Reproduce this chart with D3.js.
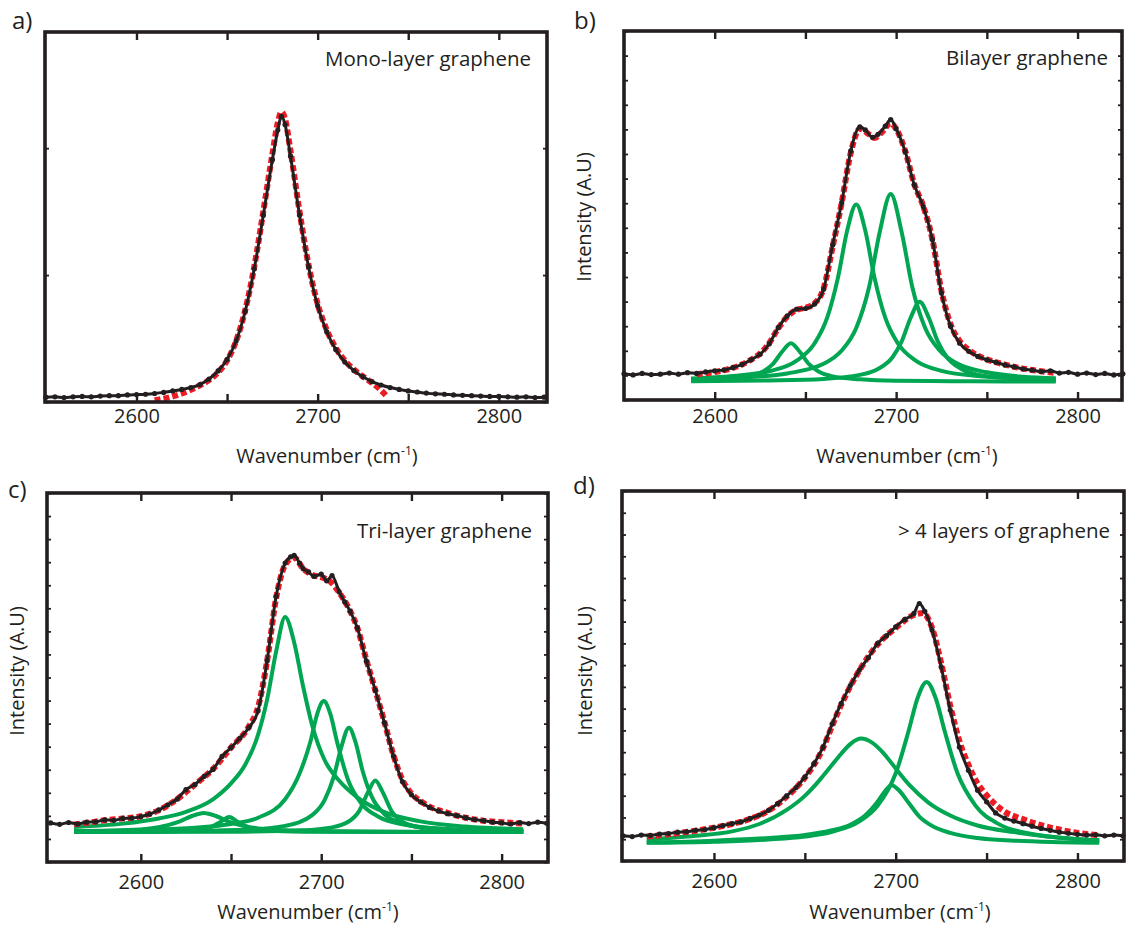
<!DOCTYPE html>
<html><head><meta charset="utf-8">
<script src="https://cdn.jsdelivr.net/npm/d3@7"></script>
<style>
body{margin:0;background:#fff}
svg{display:block}
text{font-family:'Open Sans',sans-serif;fill:#231f20}
</style>
</head><body>
<svg id="chart" width="1127" height="929"></svg>
<script>
// ---------------- DATA ----------------
const xTickValues = [2600, 2650, 2700, 2750, 2800];
const xTickLabels = [2600, 2700, 2800];
const panelLetters = ["a)", "b)", "c)", "d)"];
const panelTitles = ["Mono-layer graphene", "Bilayer graphene", "Tri-layer graphene", "> 4 layers of graphene"];
const xAxisTitle = "Wavenumber (cm";
const xAxisSup = "-1";
const yAxisTitle = "Intensity (A.U)";

// a) mono-layer: measured (black) and fit (red)
const blackA = [[2550,1.3],[2555,1.4],[2560,1.2],[2565,1.4],[2570,1.5],[2575,1.4],[2580,1.6],[2585,1.7],[2590,1.7],[2595,1.9],[2600,2.0],[2605,2.1],[2610,2.3],[2615,2.6],[2620,3.0],[2625,3.4],[2630,3.9],[2635,4.7],[2640,6.2],[2645,8.4],[2650,11.5],[2655,16.5],[2660,24.5],[2665,36.0],[2670,50.5],[2675,65.5],[2678,73.5],[2680,77.2],[2682,75.0],[2685,66.5],[2690,50.5],[2695,36.5],[2700,26.0],[2705,19.0],[2710,14.2],[2715,10.8],[2720,8.5],[2725,6.8],[2730,5.5],[2735,4.6],[2740,3.9],[2745,3.4],[2750,3.0],[2755,2.7],[2760,2.4],[2765,2.2],[2770,2.1],[2775,1.9],[2780,1.8],[2785,1.7],[2790,1.6],[2795,1.5],[2800,1.5],[2805,1.4],[2810,1.3],[2815,1.4],[2820,1.2],[2825,1.3]];
const redA = [[2610,0.5],[2615,0.9],[2620,1.5],[2625,2.3],[2630,3.3],[2635,4.5],[2640,5.9],[2645,8.0],[2650,11.2],[2655,16.5],[2660,24.8],[2665,36.5],[2670,51.5],[2675,67.0],[2678,75.5],[2680,78.4],[2682,76.5],[2685,68.0],[2690,51.5],[2695,37.0],[2700,26.5],[2705,19.5],[2710,14.6],[2715,11.2],[2720,8.8],[2725,6.9],[2730,5.2],[2735,3.2],[2738,1.6]];

// b) bilayer
const blackB = [[2550,7.1],[2555,6.8],[2560,7.2],[2565,6.9],[2570,7.0],[2575,7.3],[2580,7.0],[2585,7.4],[2590,7.2],[2595,7.6],[2600,7.9],[2605,8.1],[2610,8.8],[2615,9.6],[2620,10.9],[2625,12.4],[2630,15.2],[2635,19.6],[2640,22.8],[2645,24.6],[2650,24.8],[2655,26.0],[2660,30.0],[2665,42.0],[2670,53.5],[2675,67.5],[2680,74.0],[2683,73.2],[2687,71.2],[2690,72.0],[2694,74.2],[2697,76.0],[2700,73.5],[2705,67.3],[2710,58.3],[2715,52.4],[2720,43.4],[2725,29.0],[2730,20.0],[2735,15.4],[2740,13.2],[2745,11.8],[2750,10.9],[2755,10.2],[2760,9.5],[2765,9.0],[2770,8.4],[2775,8.1],[2780,7.7],[2785,7.9],[2790,7.3],[2795,7.5],[2800,7.0],[2805,7.3],[2810,6.9],[2815,7.2],[2820,6.8],[2825,7.1]];
const redB = [[2590,7.0],[2600,7.6],[2610,8.7],[2615,9.6],[2620,10.9],[2625,12.6],[2630,15.4],[2635,19.4],[2640,22.6],[2645,24.4],[2650,25.0],[2655,26.2],[2660,30.2],[2665,41.5],[2670,53.5],[2675,67.0],[2680,73.5],[2685,72.0],[2688,71.0],[2692,72.5],[2697,75.0],[2700,73.5],[2705,67.5],[2710,58.5],[2715,52.5],[2720,43.5],[2725,29.5],[2730,20.5],[2735,16.0],[2740,13.6],[2745,12.0],[2750,11.0],[2760,9.6],[2770,8.5],[2780,7.8],[2788,7.3]];
const greenB1 = [[2587,5.3],[2605,5.6],[2620,6.5],[2627,7.8],[2632,9.7],[2637,13.0],[2642,15.4],[2647,13.0],[2652,9.7],[2657,7.8],[2665,6.4],[2680,5.6],[2700,5.2],[2730,5.1],[2760,5.0],[2788,5.0]];
const greenB2 = [[2587,5.8],[2610,6.5],[2630,7.8],[2645,10.6],[2655,15.3],[2662,22.3],[2668,33.3],[2673,45.9],[2678,53.0],[2683,45.9],[2688,33.3],[2694,22.3],[2701,15.3],[2711,10.6],[2725,7.9],[2745,6.5],[2765,5.9],[2788,5.6]];
const greenB3 = [[2587,5.6],[2615,6.1],[2640,7.2],[2660,9.8],[2670,13.4],[2678,19.5],[2685,30.4],[2691,45.6],[2697,55.8],[2703,45.6],[2709,30.4],[2716,19.5],[2724,13.4],[2734,9.8],[2750,7.5],[2770,6.3],[2788,5.9]];
const greenB4 = [[2587,5.1],[2630,5.3],[2660,5.7],[2680,6.8],[2690,8.4],[2698,11.6],[2703,15.8],[2708,22.3],[2713,26.6],[2718,22.3],[2723,15.8],[2728,11.6],[2736,8.4],[2748,6.6],[2765,5.8],[2788,5.4]];

// c) tri-layer
const blackC = [[2550,10.6],[2555,10.2],[2560,10.7],[2565,10.3],[2570,10.8],[2575,10.9],[2580,11.4],[2585,11.3],[2590,11.8],[2595,11.9],[2600,12.3],[2605,13.0],[2610,14.1],[2615,15.5],[2620,17.0],[2625,19.6],[2630,21.0],[2635,23.2],[2640,25.1],[2645,28.6],[2650,31.0],[2655,33.6],[2660,36.5],[2665,41.0],[2670,54.5],[2675,72.0],[2680,81.0],[2683,82.7],[2685,83.1],[2688,81.0],[2690,79.5],[2693,78.6],[2696,77.4],[2700,78.0],[2703,76.2],[2706,77.6],[2710,73.2],[2713,70.5],[2716,68.0],[2720,63.5],[2725,54.5],[2730,46.5],[2735,37.8],[2740,28.8],[2745,21.8],[2750,18.2],[2755,16.3],[2760,14.8],[2765,13.8],[2770,13.1],[2775,12.6],[2780,12.0],[2785,11.5],[2790,11.2],[2795,10.8],[2800,10.6],[2805,10.3],[2810,10.7],[2815,10.4],[2820,10.8],[2825,10.5]];
const redC = [[2563,10.2],[2570,10.6],[2580,11.3],[2590,11.8],[2600,12.4],[2610,14.0],[2620,17.0],[2630,21.0],[2640,25.2],[2650,31.0],[2660,36.8],[2665,42.0],[2670,54.5],[2675,71.5],[2680,80.5],[2685,82.5],[2690,79.5],[2695,77.8],[2700,77.2],[2705,76.0],[2710,73.0],[2715,69.0],[2720,63.5],[2725,54.8],[2730,46.5],[2735,38.0],[2740,29.0],[2745,22.3],[2750,18.6],[2755,16.5],[2760,15.0],[2770,13.3],[2780,12.0],[2790,11.2],[2800,10.8],[2812,10.4]];
const greenC1 = [[2563,8.3],[2590,8.6],[2605,9.1],[2615,10.0],[2622,11.1],[2628,12.4],[2635,13.3],[2642,12.4],[2648,11.1],[2655,10.0],[2665,9.1],[2680,8.6],[2710,8.3],[2750,8.2],[2812,8.1]];
const greenC2 = [[2563,8.1],[2610,8.2],[2630,8.6],[2638,9.3],[2644,10.8],[2649,12.2],[2654,10.8],[2660,9.3],[2668,8.6],[2690,8.2],[2740,8.1],[2812,8.1]];
const greenC3 = [[2563,9.5],[2590,10.4],[2610,11.8],[2625,13.6],[2640,17.0],[2650,21.3],[2658,26.5],[2665,34.5],[2670,44.0],[2675,57.0],[2680,66.4],[2685,59.5],[2690,47.5],[2695,37.0],[2702,27.5],[2710,22.0],[2720,17.5],[2735,13.5],[2755,11.0],[2780,9.6],[2812,8.9]];
const greenC4 = [[2563,8.4],[2600,8.7],[2630,9.3],[2650,10.3],[2665,12.0],[2680,17.0],[2688,24.0],[2694,32.6],[2698,40.5],[2701.4,43.6],[2705,40.2],[2709,32.1],[2715,22.1],[2722,16.0],[2732,12.2],[2745,10.2],[2765,9.1],[2790,8.6],[2812,8.4]];
const greenC5 = [[2563,8.2],[2620,8.4],[2660,8.8],[2680,9.8],[2695,12.7],[2702,16.9],[2707,23.2],[2711,30.9],[2715.4,36.4],[2719,32.5],[2723,24.6],[2728,17.7],[2735,13.0],[2745,10.5],[2760,9.2],[2785,8.6],[2812,8.3]];
const greenC6 = [[2563,8.1],[2650,8.2],[2690,8.6],[2705,9.3],[2715,10.9],[2721,13.8],[2726,19.0],[2730,22.1],[2734,19.0],[2739,13.8],[2745,10.9],[2755,9.3],[2770,8.6],[2812,8.2]];

// d) more than 4 layers
const blackD = [[2550,6.8],[2555,6.6],[2560,7.0],[2565,6.9],[2570,7.3],[2575,7.4],[2580,7.8],[2585,7.9],[2590,8.3],[2595,8.5],[2600,9.0],[2605,9.6],[2610,10.1],[2615,10.6],[2620,11.5],[2625,12.4],[2630,13.7],[2635,15.5],[2640,17.6],[2645,19.8],[2650,22.7],[2655,26.3],[2660,30.8],[2665,37.0],[2670,42.6],[2675,47.4],[2680,51.6],[2685,55.0],[2690,58.8],[2695,60.9],[2700,63.3],[2705,65.3],[2710,66.9],[2713,69.6],[2716,67.5],[2720,62.4],[2725,52.5],[2730,40.8],[2735,30.8],[2740,24.5],[2745,19.1],[2750,16.0],[2755,13.0],[2760,11.6],[2765,10.8],[2770,10.1],[2775,9.4],[2780,8.8],[2785,8.3],[2790,7.8],[2795,7.5],[2800,7.2],[2805,7.0],[2810,7.1],[2815,6.8],[2820,7.0],[2825,6.8]];
const redD = [[2563,6.6],[2575,7.2],[2590,8.2],[2600,9.0],[2610,10.0],[2620,11.4],[2630,13.6],[2640,17.4],[2650,22.5],[2660,30.5],[2665,36.5],[2670,42.2],[2675,47.2],[2680,51.5],[2690,58.5],[2700,63.0],[2710,66.5],[2715,67.0],[2720,63.0],[2725,53.5],[2730,42.0],[2735,32.5],[2740,26.0],[2745,21.0],[2750,17.8],[2755,15.2],[2760,13.3],[2770,11.3],[2780,9.7],[2790,8.5],[2800,7.6],[2812,7.0]];
const greenD1 = [[2563,5.8],[2590,6.8],[2610,8.0],[2625,10.0],[2640,13.8],[2650,17.6],[2658,21.8],[2665,26.0],[2670,29.0],[2675,31.6],[2681,33.1],[2687,32.0],[2693,29.3],[2700,25.0],[2708,20.3],[2718,15.8],[2730,12.3],[2745,9.6],[2765,7.8],[2790,6.3],[2812,5.6]];
const greenD2 = [[2563,5.0],[2600,5.5],[2630,6.2],[2650,7.0],[2665,8.3],[2675,9.8],[2683,12.2],[2690,16.0],[2694,18.8],[2697.7,20.5],[2702,19.0],[2707,15.8],[2713,12.0],[2720,9.5],[2730,7.6],[2745,6.2],[2765,5.5],[2790,5.1],[2812,4.9]];
const greenD3 = [[2563,4.9],[2600,5.2],[2630,5.8],[2650,6.6],[2665,7.9],[2680,10.7],[2690,14.9],[2700,23.7],[2707,35.0],[2712,44.0],[2717,48.4],[2722,44.0],[2727,35.0],[2734,23.7],[2744,14.9],[2757,9.9],[2775,7.3],[2795,6.1],[2812,5.6]];

// ---------------- LAYOUT ----------------
const panels = [
  {left:45, right:547, top:32, bottom:402, xDomain:[2549.5,2826.6], yTicks:[0,34.3,68.6],
   black:blackA, red:redA, greens:[], letter:[12,29], title:[531,66], labelPad:7, axisTitle:[327,463], yTitle:null},
  {left:624, right:1122, top:31, bottom:400, xDomain:[2550,2824.5], yTicks:d3.range(0,100.01,100/15),
   black:blackB, red:redB, greens:[greenB1,greenB2,greenB3,greenB4], letter:[574,29], title:[1108,65], labelPad:9, axisTitle:[907,463], yTitle:[591,217]},
  {left:47, right:548, top:493, bottom:862, xDomain:[2548,2825.7], yTicks:d3.range(0,100.01,100/16),
   black:blackC, red:redC, greens:[greenC1,greenC2,greenC3,greenC4,greenC5,greenC6], letter:[8,498], title:[532,538], labelPad:13, axisTitle:[308,919], yTitle:[24,671]},
  {left:622, right:1124, top:491, bottom:861, xDomain:[2549.4,2825.6], yTicks:d3.range(0,100.01,100/17),
   black:blackD, red:redD, greens:[greenD1,greenD2,greenD3], letter:[573,494], title:[1110,538], labelPad:13, axisTitle:[900,919], yTitle:[592,671]}
];

const INK = "#231f20", RED = "#ed1c24", GREEN = "#00a651";
const svg = d3.select("#chart");

panels.forEach((p, i) => {
  const g = svg.append("g");
  const x = d3.scaleLinear().domain(p.xDomain).range([p.left, p.right]);
  const y = d3.scaleLinear().domain([0, 100]).range([p.bottom, p.top]);
  const line = d3.line().x(d => x(d[0])).y(d => y(d[1])).curve(d3.curveMonotoneX);

  p.greens.forEach(s => g.append("path").attr("d", line(s))
    .attr("fill", "none").attr("stroke", GREEN).attr("stroke-width", 4).attr("stroke-linejoin","round"));

  g.append("path").attr("d", line(p.red)).attr("fill", "none")
    .attr("stroke", RED).attr("stroke-width", 6).attr("stroke-dasharray", "6,3");

  g.append("path").attr("d", line(p.black)).attr("fill", "none")
    .attr("stroke", INK).attr("stroke-width", 3);
  g.selectAll("circle.pt").data(p.black).join("circle").attr("class","pt")
    .attr("cx", d => x(d[0])).attr("cy", d => y(d[1])).attr("r", 2.6).attr("fill", INK);

  // axes (inward ticks)
  const styleAxis = a => {
    a.select(".domain").remove();
    a.selectAll(".tick line").attr("stroke", INK).attr("stroke-width", 2.4);
    a.selectAll(".tick text").attr("font-size", 20).attr("font-family", "'Open Sans',sans-serif").attr("fill", INK);
  };
  g.append("g").attr("transform", `translate(0,${p.bottom})`)
    .call(d3.axisBottom(x).tickValues(xTickValues).tickSize(-8).tickPadding(p.labelPad)
      .tickFormat(d => xTickLabels.includes(d) ? d : ""))
    .call(styleAxis);
  g.append("g").attr("transform", `translate(0,${p.top})`)
    .call(d3.axisTop(x).tickValues(xTickValues).tickSize(-8).tickFormat(""))
    .call(styleAxis);
  g.append("g").attr("transform", `translate(${p.left},0)`)
    .call(d3.axisLeft(y).tickValues(p.yTicks).tickSize(-4).tickFormat(""))
    .call(styleAxis).selectAll(".tick line").attr("stroke-width", 1.8);
  g.append("g").attr("transform", `translate(${p.right},0)`)
    .call(d3.axisRight(y).tickValues(p.yTicks).tickSize(-4).tickFormat(""))
    .call(styleAxis).selectAll(".tick line").attr("stroke-width", 1.8);

  g.append("rect").attr("x", p.left).attr("y", p.top)
    .attr("width", p.right - p.left).attr("height", p.bottom - p.top)
    .attr("fill", "none").attr("stroke", INK).attr("stroke-width", 3.6);

  // texts
  g.append("text").attr("x", p.letter[0]).attr("y", p.letter[1]).attr("font-size", 24).text(panelLetters[i]);
  g.append("text").attr("x", p.title[0]).attr("y", p.title[1]).attr("text-anchor", "end")
    .attr("font-size", 20.5).text(panelTitles[i]);
  const t = g.append("text").attr("x", p.axisTitle[0]).attr("y", p.axisTitle[1])
    .attr("text-anchor", "middle").attr("font-size", 20);
  t.append("tspan").text(xAxisTitle);
  t.append("tspan").attr("font-size", 12).attr("dy", -8).text(xAxisSup);
  t.append("tspan").attr("dy", 8).text(")");
  if (p.yTitle) {
    g.append("text").attr("transform", `translate(${p.yTitle[0]},${p.yTitle[1]}) rotate(-90)`)
      .attr("text-anchor", "middle").attr("font-size", 20).text(yAxisTitle);
  }
});
</script>
</body></html>
